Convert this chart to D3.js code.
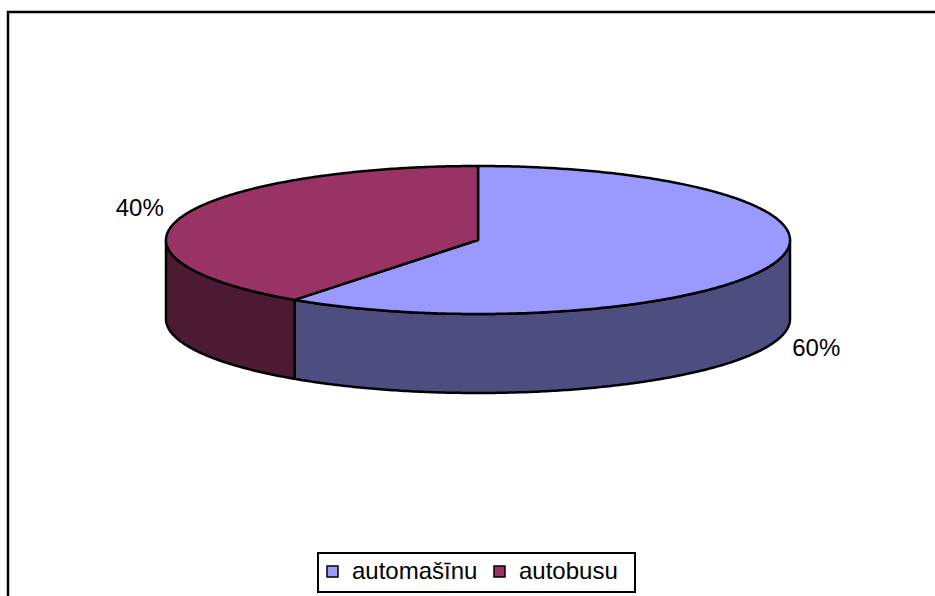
<!DOCTYPE html>
<html>
<head>
<meta charset="utf-8">
<script src="https://d3js.org/d3.v7.min.js"></script>
<style>
  body { margin: 0; background: #fff; }
  svg { display: block; }
  text { font-family: "Liberation Sans", Arial, sans-serif; }
</style>
</head>
<body>
<svg id="chart" width="935" height="596"></svg>
<script>
// data
var categories = ["automašīnu", "autobusu"];
var values = [60, 40];
var labels = ["60%", "40%"];
var topColors = ["#9999FF", "#993366"];
var sideColors = ["#4D4D80", "#4D1A33"];

function drawPie3D()
{
    var svg = d3.select("#chart");

    // chart frame
    svg.append("path")
            .attr("d", "M8,600V12H940")
            .style("fill", "none")
            .style("stroke", "#000")
            .style("stroke-width", "2.5px");

    var cx = 478, cy = 240, rx = 312, ry = 74, depth = 79;

    var pie = d3.pie().sort(null).value(function(d) { return d; });
    var arcs = pie(values);

    // angle measured clockwise from 12 o'clock
    var ex = d3.scaleLinear().domain([-1, 1]).range([cx - rx, cx + rx]);
    var ey = d3.scaleLinear().domain([-1, 1]).range([cy - ry, cy + ry]);

    function pt(a, dz) {
        return [ex(Math.sin(a)), ey(-Math.cos(a)) + (dz || 0)];
    }

    function rim(a0, a1, dz) {
        var n = Math.max(2, Math.ceil((a1 - a0) / 0.01)), p = [];
        for (var i = 0; i <= n; i++) p.push(pt(a0 + (a1 - a0) * i / n, dz));
        return p;
    }

    var line = d3.line();

    // side walls (front half only: pi/2 .. 3pi/2)
    arcs.forEach(function(d, i) {
        var a0 = Math.max(d.startAngle, Math.PI / 2),
            a1 = Math.min(d.endAngle, 3 * Math.PI / 2);
        if (a1 <= a0) return;
        var top = rim(a0, a1, 0),
            bot = rim(a0, a1, depth).reverse();
        svg.append("path")
                .attr("d", line(top.concat(bot)) + "Z")
                .style("fill", sideColors[i])
                .style("stroke", "#000")
                .style("stroke-width", "2.5px")
                .style("stroke-linejoin", "round");
    });

    // top faces
    arcs.forEach(function(d, i) {
        var p = [[cx, cy]].concat(rim(d.startAngle, d.endAngle, 0));
        svg.append("path")
                .attr("d", line(p) + "Z")
                .style("fill", topColors[i])
                .style("stroke", "#000")
                .style("stroke-width", "2.5px")
                .style("stroke-linejoin", "round");
    });

    // percentage labels
    arcs.forEach(function(d, i) {
        var m = (d.startAngle + d.endAngle) / 2,
            k = 1.14,
            x = cx + rx * k * Math.sin(m),
            y = cy - ry * k * Math.cos(m) + (Math.cos(m) < 0 ? depth : 0);
        svg.append("text")
                .attr("x", x)
                .attr("y", y)
                .attr("dy", Math.cos(m) < 0 ? "0.45em" : "0.1em")
                .attr("text-anchor", "middle")
                .style("font-size", "24px")
                .style("fill", "#000")
                .text(labels[i]);
    });

    // legend
    var lg = svg.append("g");
    lg.append("rect")
            .attr("x", 318).attr("y", 553)
            .attr("width", 317).attr("height", 39)
            .style("fill", "#fff")
            .style("stroke", "#000")
            .style("stroke-width", "2px");

    var lx = d3.scaleOrdinal().domain(categories).range([327, 494]);
    categories.forEach(function(c, i) {
        lg.append("rect")
                .attr("x", lx(c)).attr("y", 566)
                .attr("width", 11).attr("height", 11)
                .style("fill", topColors[i])
                .style("stroke", "#000")
                .style("stroke-width", "1.5px");
        lg.append("text")
                .attr("x", lx(c) + 25)
                .attr("y", 579)
                .style("font-size", "24px")
                .text(c);
    });
}

drawPie3D();
</script>
</body>
</html>
